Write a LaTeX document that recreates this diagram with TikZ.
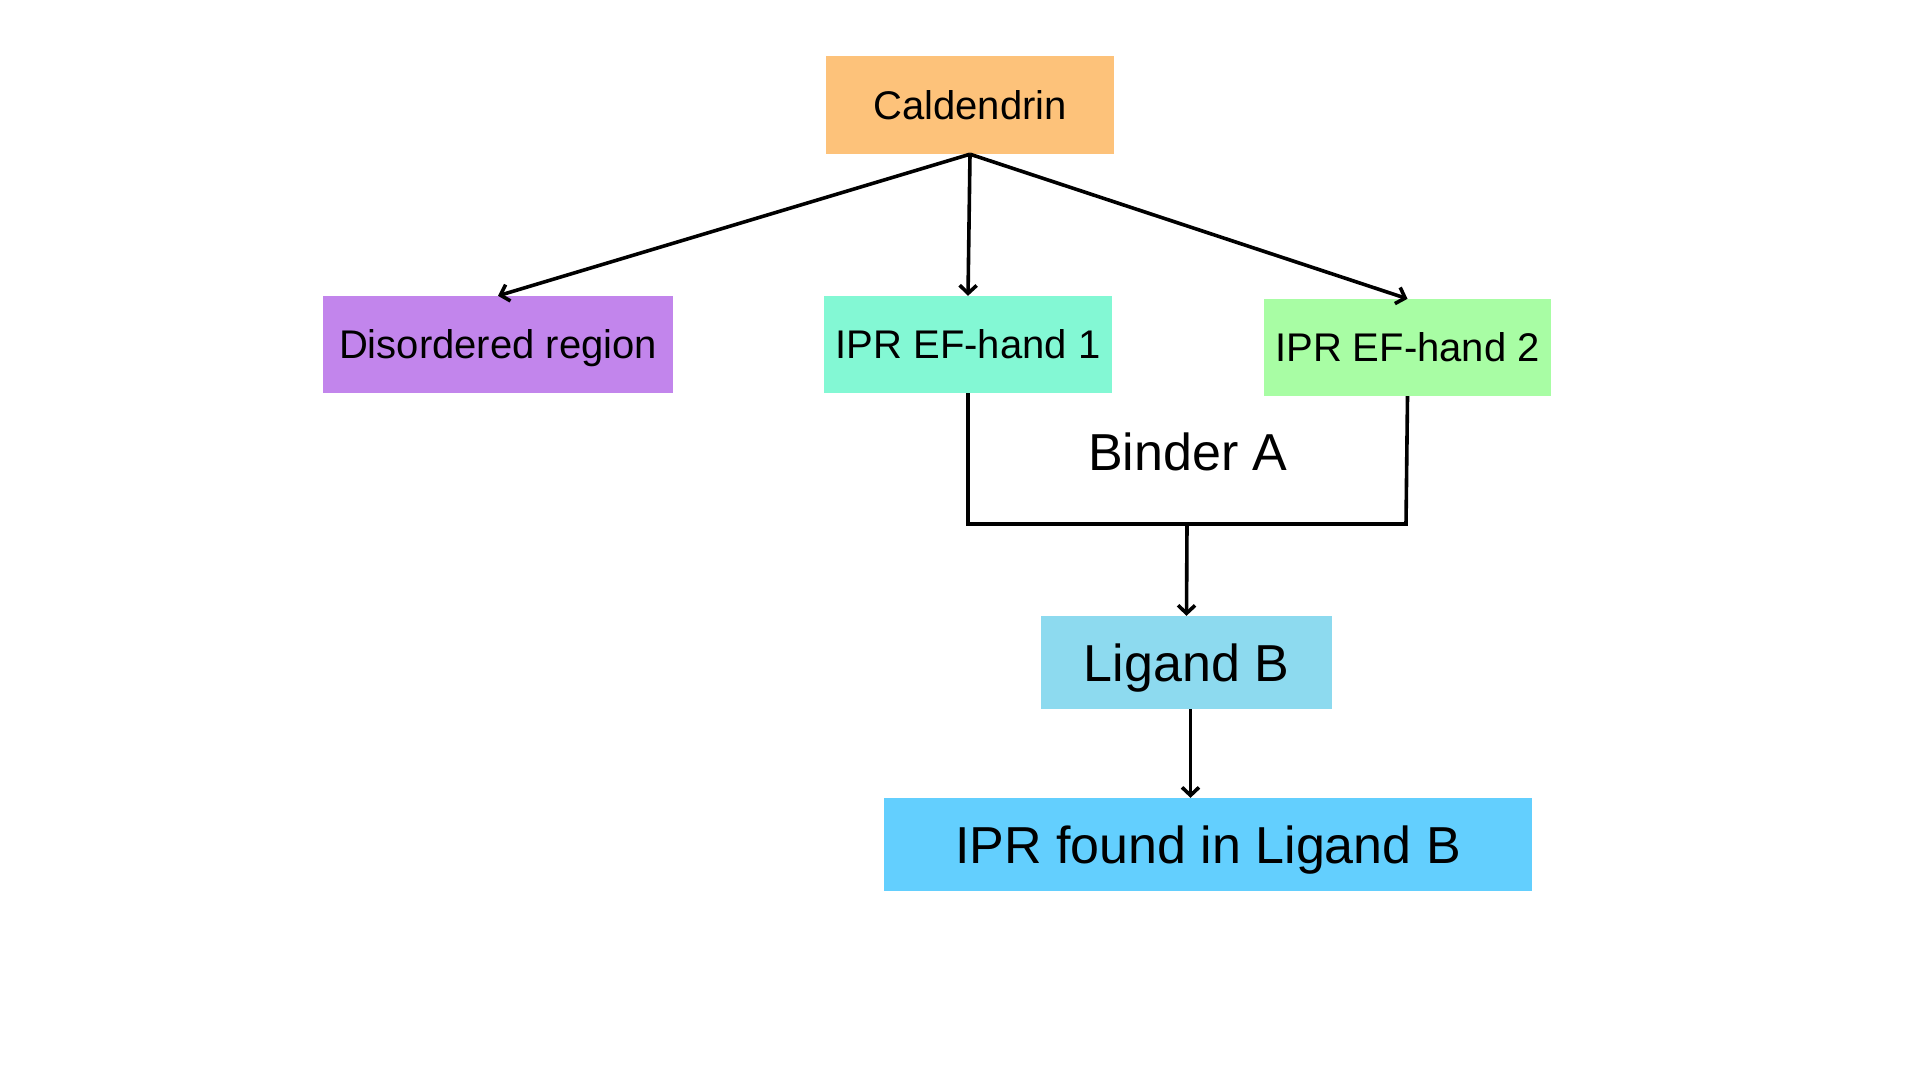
\documentclass[tikz,border=0pt]{standalone}
\usepackage{fontspec}
\setmainfont{Liberation Sans}
\usetikzlibrary{arrows.meta}
\definecolor{calc}{HTML}{FDC27A}
\definecolor{disc}{HTML}{C285EC}
\definecolor{efa}{HTML}{83F8D4}
\definecolor{efb}{HTML}{A8FDA4}
\definecolor{ligc}{HTML}{8DDAEF}
\definecolor{iprc}{HTML}{63CFFE}
\tikzset{
  box/.style={rectangle, inner sep=0pt, text=black},
  smalltxt/.style={font=\fontsize{40}{48}\selectfont, text height=36pt, text depth=7.2pt},
  bigtxt/.style={font=\fontsize{52}{60}\selectfont, text height=46.8pt, text depth=9.4pt},
  conn/.style={line width=3.6pt, black},
  arr/.style={conn, -{Straight Barb[length=8pt,width=17pt,line width=3.6pt]}},
}
\begin{document}
\begin{tikzpicture}[x=1pt,y=-1pt]
\path[fill=white,use as bounding box] (0,0) rectangle (1920,1080);
\node[box,smalltxt,fill=calc,minimum width=288pt,minimum height=98pt] (cal) at (970,105) {Caldendrin};
\node[box,smalltxt,fill=disc,minimum width=350pt,minimum height=97pt] (dis) at (498,344.5) {Disordered region};
\node[box,smalltxt,fill=efa,minimum width=288pt,minimum height=97pt] (efA) at (968,344.5) {IPR EF-hand 1};
\node[box,smalltxt,fill=efb,minimum width=287pt,minimum height=97pt] (efB) at (1407.5,347.5) {IPR EF-hand 2};
\node[box,bigtxt,fill=ligc,minimum width=291pt,minimum height=93pt] (lig) at (1186.5,662.5) {Ligand B};
\node[box,bigtxt,fill=iprc,minimum width=648pt,minimum height=93pt] (ipr) at (1208,844.5) {IPR found in Ligand B};
\node[box,bigtxt] (binder) at (1188,452) {Binder A};
\coordinate (jL) at (968,524);
\coordinate (jR) at (1406,524);
\coordinate (jM) at (1187,524);
\draw[arr] (cal.south) -- (dis.north);
\draw[arr] (cal.south) -- (efA.north);
\draw[arr] (cal.south) -- (efB.north);
\draw[conn] (efA.south) -- (jL) -- (jR) -- (efB.south);
\draw[arr] (jM) -- (lig.north);
\draw[arr] ([xshift=4pt]lig.south) -- ([xshift=4pt]lig.south |- ipr.north);
\end{tikzpicture}
\end{document}
